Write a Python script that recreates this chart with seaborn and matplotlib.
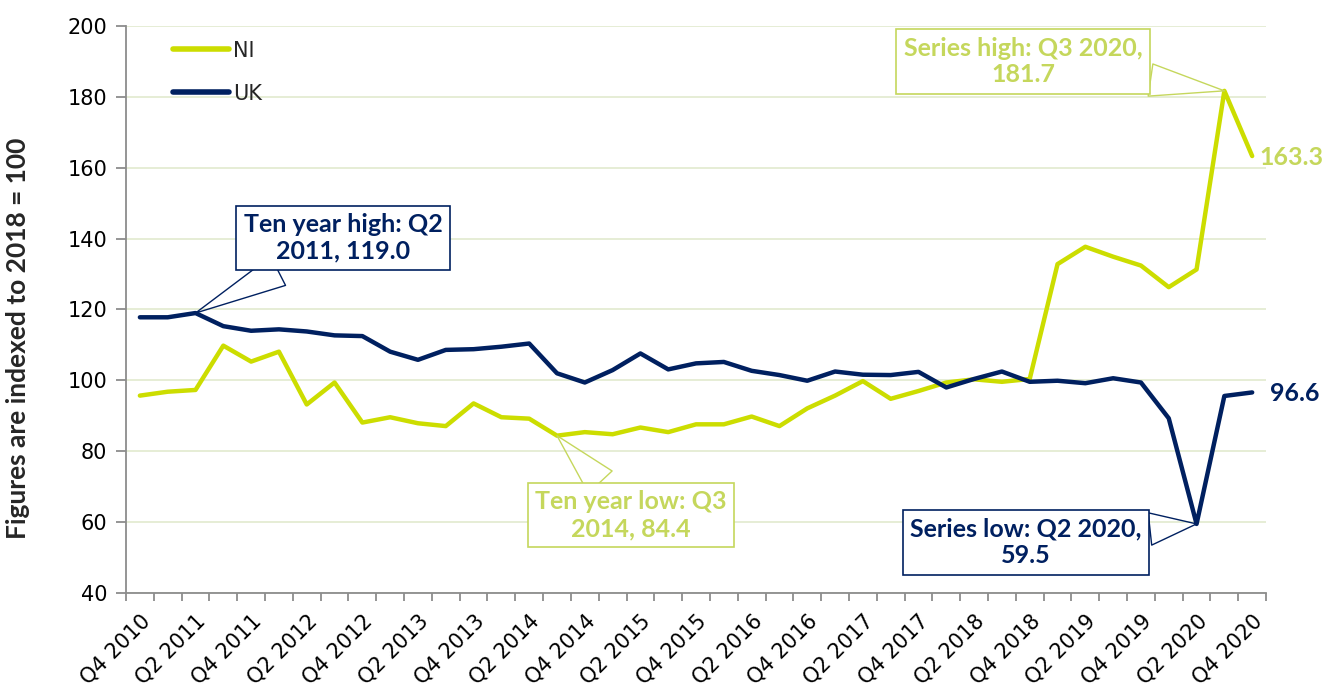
import matplotlib
matplotlib.use("Agg")
import matplotlib.pyplot as plt
import seaborn as sns
import pandas as pd
import numpy as np

quarters = []
for y in range(2010, 2021):
    for q in range(1, 5):
        if (y == 2010 and q < 4):
            continue
        quarters.append(f"Q{q} {y}")

ni = [95.7, 96.8, 97.3, 109.8, 105.3, 108.1, 93.2, 99.4, 88.1, 89.6,
      87.9, 87.1, 93.5, 89.6, 89.2, 84.4, 85.4, 84.8, 86.7, 85.4,
      87.6, 87.6, 89.8, 87.1, 92.1, 95.7, 99.8, 94.8, 97.0, 99.4,
      100.3, 99.6, 100.4, 132.8, 137.7, 134.9, 132.4, 126.3, 131.3, 181.7,
      163.3]
uk = [117.8, 117.8, 119.0, 115.3, 114.0, 114.4, 113.8, 112.7, 112.5, 108.1,
      105.8, 108.6, 108.8, 109.5, 110.4, 102.0, 99.4, 102.9, 107.6, 103.1,
      104.8, 105.2, 102.7, 101.5, 99.9, 102.5, 101.6, 101.5, 102.4, 98.0,
      100.4, 102.5, 99.6, 99.9, 99.2, 100.6, 99.4, 89.3, 59.5, 95.6,
      96.6]
series_names = ["NI", "UK"]
y_ticks = [40, 60, 80, 100, 120, 140, 160, 180, 200]

NI_COL = "#CCDD00"
NI_TXT = "#C5D75C"
UK_COL = "#002060"

sns.set_theme(style="white")
plt.rcParams["font.family"] = ["DejaVu Sans"]

TICK_FONT = ["DejaVu Sans"]
ANN_FONT = ["Lato", "DejaVu Sans"]

n = len(quarters)
df = pd.DataFrame({
    "idx": list(range(n)) * 2,
    "value": ni + uk,
    "series": ["NI"] * n + ["UK"] * n,
})

fig = plt.figure(figsize=(13.22, 6.89), dpi=100)
ax = fig.add_axes([0.0953, 0.1393, 0.8624, 0.823])

sns.lineplot(data=df, x="idx", y="value", hue="series", hue_order=series_names,
             palette={"NI": NI_COL, "UK": UK_COL}, linewidth=3.2, ax=ax,
             legend=True)

ax.set_xlim(-0.5, n - 0.5)
ax.set_ylim(40, 200)
ax.set_yticks(y_ticks)
ax.set_yticklabels([str(t) for t in y_ticks], fontsize=15, color="black",
                   family=TICK_FONT)
ax.yaxis.grid(True, color="#E4ECD2", linewidth=1.3)
ax.xaxis.grid(False)

# x ticks: marks at category boundaries, labels every other quarter
ax.set_xticks(np.arange(-0.5, n, 1.0), minor=True)
ax.set_xticks(list(range(0, n, 2)))
ax.set_xticklabels([quarters[i] for i in range(0, n, 2)], rotation=45,
                   ha="right", va="top", rotation_mode="anchor", fontsize=15,
                   family=TICK_FONT, color="black")
ax.tick_params(axis="x", which="major", length=0, pad=13)
ax.tick_params(axis="x", which="minor", length=6, width=1.3, color="#8C8C8C",
               direction="out", bottom=True)
ax.tick_params(axis="y", length=7, width=1.3, color="#8C8C8C", direction="out",
               left=True, pad=6.5)
for s in ["top", "right"]:
    ax.spines[s].set_visible(False)
for s in ["left", "bottom"]:
    ax.spines[s].set_color("#8C8C8C")
    ax.spines[s].set_linewidth(1.3)

ax.set_xlabel("")
ax.set_ylabel("Figures are indexed to 2018 = 100", fontsize=19,
              fontweight="bold", family=ANN_FONT)
ax.yaxis.set_label_coords(-0.084, 0.45)

leg = ax.legend(loc="upper left", bbox_to_anchor=(0.0246, 1.007), frameon=False,
                prop={"family": TICK_FONT, "size": 15}, handlelength=2.7,
                handletextpad=0.2, labelspacing=1.1)
for line in leg.get_lines():
    line.set_linewidth(4)

def callout(text, xy_idx, yv, box_x, box_y, col, edge):
    ax.annotate(text, xy=(xy_idx, yv), xytext=(box_x, box_y),
                textcoords="data", ha="center", va="center", fontsize=18,
                fontweight="bold", family=ANN_FONT, color=col,
                linespacing=1.2,
                bbox=dict(boxstyle="square,pad=0.3", fc="white", ec=edge, lw=1.2),
                arrowprops=dict(arrowstyle="wedge,tail_width=1.3,shrink_factor=0.5",
                                fc="none", ec=edge, lw=1.0,
                                shrinkA=0, shrinkB=0),
                zorder=5)

i_hi_uk = 2
callout(f"Ten year high: Q2\n2011, {uk[i_hi_uk]:.1f}",
        i_hi_uk, uk[i_hi_uk], 7.3, 140.2, UK_COL, UK_COL)
i_lo_ni = 15
callout(f"Ten year low: Q3\n2014, {ni[i_lo_ni]:.1f}",
        i_lo_ni, ni[i_lo_ni], 17.66, 62.0, NI_TXT, NI_TXT)
i_hi_ni = 39
callout(f"Series high: Q3 2020,\n{ni[i_hi_ni]:.1f}",
        i_hi_ni, ni[i_hi_ni], 31.76, 190.0, NI_TXT, NI_TXT)
i_lo_uk = 38
callout(f"Series low: Q2 2020,\n{uk[i_lo_uk]:.1f}",
        i_lo_uk, uk[i_lo_uk], 31.87, 54.3, UK_COL, UK_COL)

# end labels
ax.annotate(f"{ni[-1]:.1f}", xy=(n - 1, ni[-1]), xytext=(5, -1),
            textcoords="offset points", ha="left", va="center", fontsize=18,
            fontweight="bold", family=ANN_FONT, color=NI_TXT, annotation_clip=False)
ax.annotate(f"{uk[-1]:.1f}", xy=(n - 1, uk[-1]), xytext=(13, -1),
            textcoords="offset points", ha="left", va="center", fontsize=18,
            fontweight="bold", family=ANN_FONT, color=UK_COL, annotation_clip=False)

fig.savefig("out.png", dpi=100)
